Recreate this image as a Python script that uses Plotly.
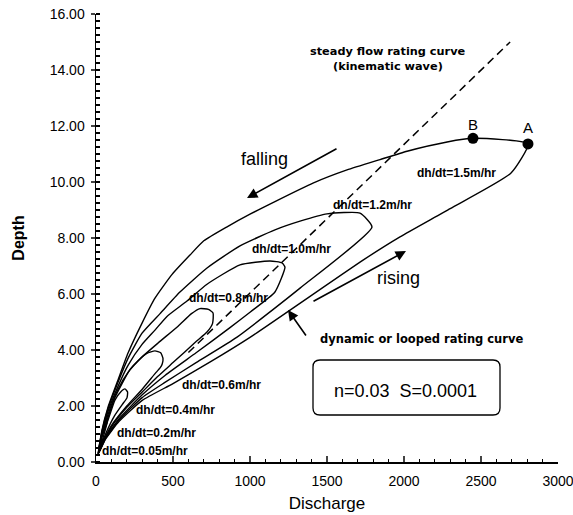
import plotly.graph_objects as go

# ---------------- data (Discharge Q, Depth h) ----------------
q15 = [15, 39, 78, 143, 208, 299, 383, 494, 610, 700, 851, 1000, 1162, 1409, 1630, 1844, 2020, 2280, 2448,
       2805, 2695, 2300, 1974, 1734, 1000, 750, 500, 300, 150, 60, 15]
h15 = [0.3, 1.14, 1.96, 2.93, 3.89, 4.96, 5.85, 6.7, 7.39, 7.9, 8.4, 8.85, 9.3, 9.96, 10.43, 10.8, 11.1, 11.43, 11.56,
       11.36, 10.32, 9.05, 8.04, 7.21, 4.45, 3.6, 2.8, 2.2, 1.45, 0.8, 0.3]

q12 = [15, 39, 78, 143, 208, 299, 416, 545, 721, 935, 1162, 1325, 1500, 1714, 1792,
       1325, 916, 650, 450, 300, 150, 60, 15]
h12 = [0.3, 1.1, 1.9, 2.85, 3.7, 4.6, 5.3, 6.07, 6.93, 7.72, 8.29, 8.6, 8.86, 8.89, 8.39,
       6.21, 4.46, 3.55, 2.85, 2.3, 1.5, 0.82, 0.3]

q10 = [15, 39, 78, 143, 208, 299, 383, 461, 591, 721, 935, 1130, 1208, 1227,
       1162, 1000, 870, 650, 450, 300, 150, 60, 15]
h10 = [0.3, 1.05, 1.8, 2.7, 3.45, 4.2, 4.71, 5.2, 5.75, 6.35, 7.04, 7.18, 7.11, 6.96,
       6.07, 5.35, 4.8, 3.9, 3.1, 2.4, 1.55, 0.85, 0.3]

q08 = [15, 39, 78, 143, 208, 299, 403, 533, 620, 675, 730, 760, 757,
       721, 650, 500, 400, 300, 200, 100, 40, 15]
h08 = [0.3, 1.0, 1.7, 2.6, 3.2, 3.75, 4.25, 4.85, 5.3, 5.48, 5.45, 5.32, 4.95,
       4.64, 4.3, 3.55, 3.05, 2.5, 1.95, 1.25, 0.65, 0.3]

q06 = [15, 39, 78, 123, 169, 220, 273, 330, 383, 420, 435, 430,
       416, 390, 300, 200, 100, 40, 15]
h06 = [0.3, 0.95, 1.6, 2.3, 2.8, 3.3, 3.62, 3.88, 3.97, 3.9, 3.7, 3.5,
       3.36, 3.2, 2.6, 2.0, 1.3, 0.65, 0.3]

q04 = [15, 39, 78, 123, 160, 188, 205, 201, 170, 120, 70, 30, 15]
h04 = [0.3, 0.9, 1.5, 2.21, 2.5, 2.61, 2.5, 2.29, 2.05, 1.65, 1.1, 0.55, 0.3]

q02 = [15, 30, 50, 65, 75, 72, 55, 35, 15]
h02 = [0.3, 0.75, 1.2, 1.5, 1.55, 1.4, 1.05, 0.65, 0.3]

q005 = [12, 25, 35, 28, 12]
h005 = [0.25, 0.55, 0.75, 0.6, 0.25]

# steady flow rating curve (kinematic wave)
steady_q = [600, 2689]
steady_h = [3.91, 15.0]

# points A and B
pt_labels = ["B", "A"]
pt_q = [2448, 2805]
pt_h = [11.56, 11.36]

# loop labels
loop_labels = ["dh/dt=1.5m/hr", "dh/dt=1.2m/hr", "dh/dt=1.0m/hr", "dh/dt=0.8m/hr",
               "dh/dt=0.6m/hr", "dh/dt=0.4m/hr", "dh/dt=0.2m/hr", "dh/dt=0.05m/hr"]

x_ticks = [0, 500, 1000, 1500, 2000, 2500, 3000]
y_ticks = [0, 2, 4, 6, 8, 10, 12, 14, 16]

# ---------------- layout helpers (window pixel -> data) ----------------
W, H = 573, 515
X0, X1, Y0, Y1 = 96, 558, 462, 14


def qx(px):
    return (px - X0) * 3000 / (X1 - X0)


def hy(py):
    return (Y0 - py) * 16 / (Y0 - Y1)


FONT = "Arial, Liberation Sans, sans-serif"
WIDE = "DejaVu Sans, Verdana, sans-serif"

fig = go.Figure()

loops = [(q15, h15), (q12, h12), (q10, h10), (q08, h08), (q06, h06), (q04, h04), (q02, h02), (q005, h005)]
for q, h in loops:
    fig.add_trace(go.Scatter(x=q, y=h, mode="lines",
                             line=dict(color="black", width=1.4, shape="spline", smoothing=0.5),
                             hoverinfo="skip", showlegend=False))

fig.add_trace(go.Scatter(x=steady_q, y=steady_h, mode="lines",
                         line=dict(color="black", width=1.5, dash="8px,5px"),
                         hoverinfo="skip", showlegend=False))

fig.add_trace(go.Scatter(x=pt_q, y=pt_h, mode="markers",
                         marker=dict(color="black", size=11), hoverinfo="skip", showlegend=False))

ann = []


def text(px, py, s, size, bold=False, family=FONT):
    ann.append(dict(x=qx(px), y=hy(py), xref="x", yref="y", text=(f"<b>{s}</b>" if bold else s),
                    showarrow=False, font=dict(family=family, size=size, color="black"),
                    xanchor="center", yanchor="middle"))


text(387, 51, "steady flow rating curve", 11.3, True, WIDE)
text(388, 66, "(kinematic wave)", 11.3, True, WIDE)
text(473, 124, pt_labels[0], 15)
text(528, 127, pt_labels[1], 15)

label_pos = [(456, 173), (372, 205), (291, 249), (228, 298), (221, 385), (175, 410), (156, 433), (145, 451)]
for (px, py), s in zip(label_pos, loop_labels):
    text(px, py, s, 12, True)

text(264, 159, "falling", 18)
text(398, 278, "rising", 18)
text(421, 339, "dynamic or looped rating curve", 11.5, True, WIDE)
text(405, 391, "n=0.03&nbsp;&nbsp;S=0.0001", 18)


def arrow(tx, ty, hx, hy_):
    ann.append(dict(x=qx(hx), y=hy(hy_), xref="x", yref="y", ax=tx - hx, ay=ty - hy_,
                    axref="pixel", ayref="pixel", text="", showarrow=True,
                    arrowhead=2, arrowsize=1.3, arrowwidth=1.6, arrowcolor="black"))


arrow(338, 148, 247, 198)
arrow(312, 302, 406, 251)
arrow(307, 337, 288, 310)

# rounded box
bx0, bx1, by0, by1 = qx(313), qx(500), hy(415), hy(360)
rx, ry = qx(96 + 7) - qx(96), hy(455) - hy(462)
path = (f"M {bx0 + rx},{by0} L {bx1 - rx},{by0} Q {bx1},{by0} {bx1},{by0 + ry} "
        f"L {bx1},{by1 - ry} Q {bx1},{by1} {bx1 - rx},{by1} "
        f"L {bx0 + rx},{by1} Q {bx0},{by1} {bx0},{by1 - ry} "
        f"L {bx0},{by0 + ry} Q {bx0},{by0} {bx0 + rx},{by0} Z")

fig.update_layout(
    width=W, height=H,
    margin=dict(l=X0, r=W - X1, t=Y1, b=H - Y0, autoexpand=False),
    paper_bgcolor="white", plot_bgcolor="white",
    annotations=ann,
    shapes=[dict(type="path", path=path, xref="x", yref="y", line=dict(color="black", width=1.3))],
    xaxis=dict(range=[0, 3000], tickvals=x_ticks, ticks="inside", ticklen=6, tickwidth=1.3,
               showline=True, linecolor="black", linewidth=1.5, showgrid=False, zeroline=False,
               automargin=False, ticklabeloverflow="allow",
               tickfont=dict(family=FONT, size=14, color="black"), ticklabelstandoff=6,
               minor=dict(dtick=100, ticks="inside", ticklen=3, tickcolor="black", showgrid=False),
               title=dict(text="Discharge", font=dict(family=FONT, size=17, color="black"), standoff=9),
               tickprefix="<b>", ticksuffix="</b>"),
    yaxis=dict(range=[0, 16], tickvals=y_ticks, tickformat=".2f", ticks="outside", ticklen=4, tickwidth=1.3,
               showline=True, linecolor="black", linewidth=1.5, showgrid=False, zeroline=False,
               automargin=False, ticklabeloverflow="allow",
               tickfont=dict(family=FONT, size=14, color="black"), ticklabelstandoff=3,
               minor=dict(dtick=0.25, ticks="inside", ticklen=4, tickcolor="black", showgrid=False),
               title=dict(text="<b>Depth</b>", font=dict(family=FONT, size=16, color="black"), standoff=21),
               tickprefix="<b>", ticksuffix="</b>"),
)

fig.write_html("out.html", config={"displayModeBar": False, "staticPlot": True},
               post_script="document.body.style.margin='0';document.body.style.overflow='hidden';"
                           "document.documentElement.style.overflow='hidden';")
